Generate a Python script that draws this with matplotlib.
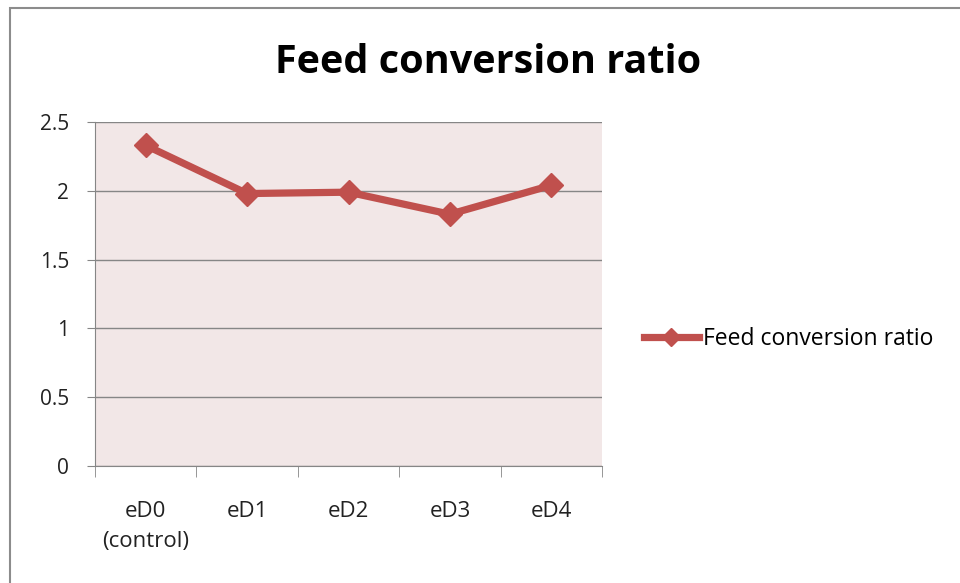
import matplotlib.pyplot as plt
from matplotlib.patches import Rectangle

# datos del gráfico
grupos = ["eD0\n(control)", "eD1", "eD2", "eD3", "eD4"]
fcr = [2.33, 1.98, 1.99, 1.83, 2.04]
marcas_y = [0, 0.5, 1, 1.5, 2, 2.5]
etiquetas_y = ["0", "0.5", "1", "1.5", "2", "2.5"]

rojo = "#C0504D"
gris = "#868686"
fuente = "Open Sans"

W, H = 960, 583
fig = plt.figure(figsize=(W / 100, H / 100), dpi=100)
fig.patch.set_facecolor("white")

# marco exterior del gráfico
fig.patches.append(Rectangle((10 / W, -0.1), 1.2, 1.1 - 8 / H,
                             transform=fig.transFigure, fill=False,
                             edgecolor="#8C8C8C", linewidth=1.5))

ax = fig.add_axes([95 / W, (H - 466) / H, (602 - 95) / W, (466 - 122) / H])
ax.set_facecolor("#F2E7E7")

x = range(len(grupos))
ax.plot(x, fcr, color=rojo, linewidth=5.2, marker="D", markersize=12,
        label="Feed conversion ratio", solid_joinstyle="miter", zorder=3)

ax.set_xlim(-0.5, len(grupos) - 0.5)
ax.set_ylim(0, 2.5)
ax.set_yticks(marcas_y)
ax.set_yticklabels(etiquetas_y, fontsize=15, family=fuente, color="#222222")
ax.yaxis.grid(True, color=gris, linewidth=1)
ax.set_axisbelow(True)

ax.set_xticks(list(x))
ax.set_xticklabels(grupos, fontsize=16, family=fuente, color="#222222", linespacing=1.6)
ax.set_xticks([i - 0.5 for i in range(len(grupos) + 1)], minor=True)
ax.tick_params(axis="x", which="major", length=0, pad=25)
ax.tick_params(axis="x", which="minor", length=8, color=gris, direction="out")
ax.tick_params(axis="y", length=6, color=gris, direction="out", pad=12.5)

for lado in ["top", "right"]:
    ax.spines[lado].set_visible(False)
for lado in ["left", "bottom"]:
    ax.spines[lado].set_color(gris)

fig.text(488 / W, 1 - 73 / H, "Feed conversion ratio", ha="center", va="baseline",
         fontsize=28.5, fontweight="bold", family=fuente)

fig.legend(loc="center left", bbox_to_anchor=(623 / W, 1 - 339 / H), frameon=False,
           handlelength=2.4, handletextpad=0.2, markerscale=0.75,
           prop={"family": fuente, "size": 16.5})

fig.savefig("out.png", dpi=100)
